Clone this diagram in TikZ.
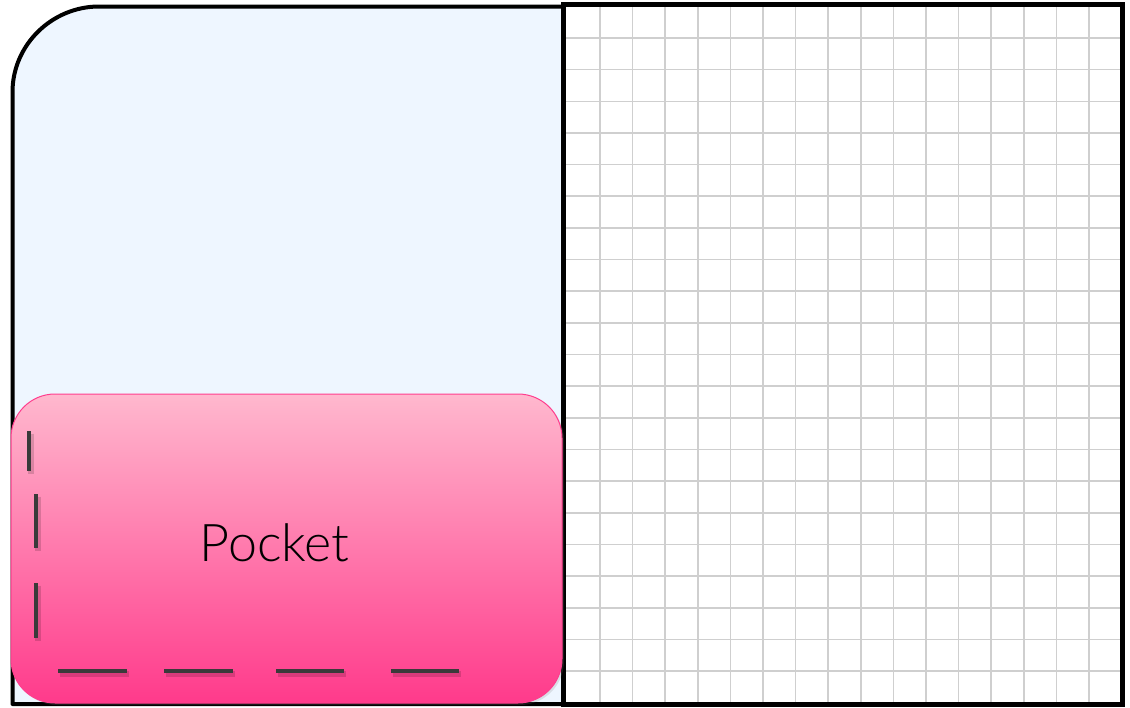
\documentclass[tikz,border=0pt]{standalone}
\usepackage{fontspec}
\newfontfamily\pk{Lato}[UprightFont=* Light]
\usetikzlibrary{shadows}
\definecolor{panelblue}{HTML}{EEF6FF}
\definecolor{pktop}{HTML}{FFB8CE}
\definecolor{pkbot}{HTML}{FF3A8B}
\definecolor{pkedge}{HTML}{FF3E8E}
\definecolor{gridgray}{HTML}{CFCFCF}
\definecolor{stitch}{HTML}{3A3A3A}
\tikzset{
  gridline/.style={draw=gridgray, line width=1.6pt},
  stitchline/.style={draw=stitch, line width=4pt},
  stitchshadow/.style={draw=black, opacity=0.15, line width=6pt},
  pocketbox/.style={rounded corners=44pt, top color=pktop, bottom color=pkbot,
    draw=pkedge, line width=1pt, inner sep=0pt,
    drop shadow={shadow xshift=2pt, shadow yshift=-2pt, opacity=0.2}},
}
\begin{document}
\begin{tikzpicture}[x=1pt,y=-1pt]
\useasboundingbox (0,0) rectangle (1130,707);
% left panel
\draw[line width=4pt, fill=panelblue, line join=round]
  (563,704) -- (12.5,704) -- (12.5,92) .. controls (12.5,44.9) and (51.9,6.5) .. (99,6.5) -- (563,6.5) -- cycle;
% right grid panel
\fill[white] (563,4) rectangle (1122,704);
\foreach \i in {0,...,15} {
  \draw[gridline] ({600+32.6*\i},4) -- ({600+32.6*\i},704);
}
\foreach \j in {0,...,20} {
  \draw[gridline] (563,{38+31.65*\j}) -- (1122,{38+31.65*\j});
}
\node (grid) [draw=black, line width=5pt, minimum width=559pt, minimum height=700pt, inner sep=0pt] at (842.5,354) {};
% pocket
\node (pocket) [pocketbox, minimum width=551pt, minimum height=309pt] at (286.5,548.5) {};
\node (label) at (274.5,543) {\pk\fontsize{52}{58}\selectfont Pocket};
% stitches
\coordinate (s1a) at (29,431); \coordinate (s1b) at (29,471);
\coordinate (s2a) at (36,494); \coordinate (s2b) at (36,548);
\coordinate (s3a) at (36,583); \coordinate (s3b) at (36,638);
\coordinate (h1a) at (58,671); \coordinate (h1b) at (127,671);
\coordinate (h2a) at (164,671); \coordinate (h2b) at (233,671);
\coordinate (h3a) at (276,671); \coordinate (h3b) at (344,671);
\coordinate (h4a) at (391,671); \coordinate (h4b) at (459,671);
\foreach \a/\b in {s1a/s1b, s2a/s2b, s3a/s3b, h1a/h1b, h2a/h2b, h3a/h3b, h4a/h4b} {
  \draw[stitchshadow] ([shift={(1.5,2.5)}]\a) -- ([shift={(1.5,2.5)}]\b);
  \draw[stitchline] (\a) -- (\b);
}
\end{tikzpicture}
\end{document}
